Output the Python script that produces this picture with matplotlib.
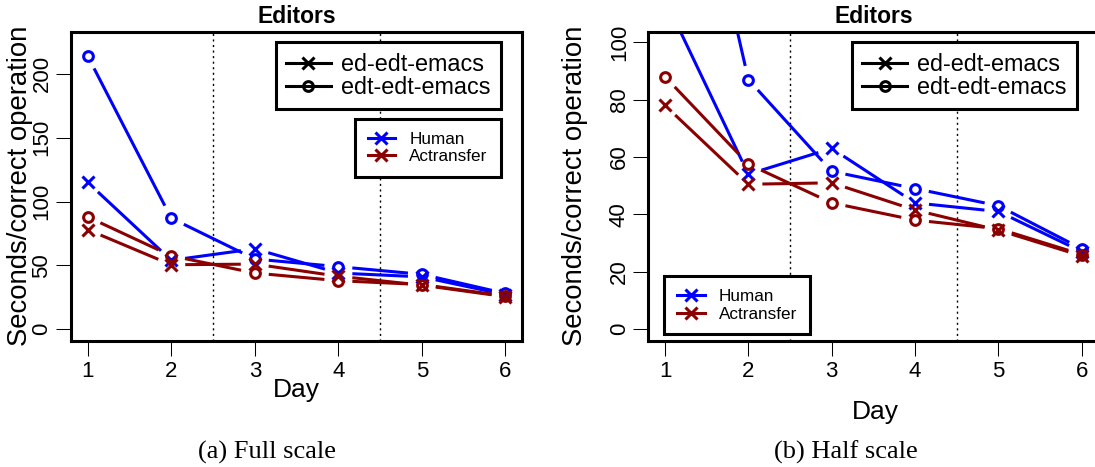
import matplotlib
matplotlib.use('Agg')
import matplotlib.pyplot as plt
from matplotlib.lines import Line2D
import numpy as np

# Segundos por operación correcta, por día
dias = [1, 2, 3, 4, 5, 6]
human_ed = [115, 54, 63, 44, 41, 27]
human_edt = [214, 87, 55, 49, 43, 28]
actr_ed = [78, 50.5, 51, 41.5, 34.5, 25.5]
actr_edt = [88, 57.5, 44, 38, 35, 26]

etiquetas_orden = ['ed-edt-emacs', 'edt-edt-emacs']
etiquetas_modelo = ['Human', 'Actransfer']
ticks_full = [0, 50, 100, 150, 200]
ticks_half = [0, 20, 40, 60, 80, 100]

AZUL = '#0000ff'
ROJO = '#8b0000'
LW = 2.2
MS_X = 8.5
MS_O = 7

plt.rcParams['font.family'] = 'Liberation Sans'


def linea_con_huecos(ax, x, y, color, marker, ms, hueco=14):
    """Dibuja estilo type='b' de R: los segmentos se cortan antes de cada punto."""
    pts = ax.transData.transform(np.column_stack([x, y]))
    inv = ax.transData.inverted()
    xs, ys = [], []
    for p0, p1 in zip(pts[:-1], pts[1:]):
        d = p1 - p0
        largo = np.hypot(*d)
        if largo <= 2 * hueco:
            continue
        u = d / largo
        a = inv.transform([p0 + u * hueco, p1 - u * hueco])
        xs += [a[0, 0], a[1, 0], np.nan]
        ys += [a[0, 1], a[1, 1], np.nan]
    ax.plot(xs, ys, color=color, lw=LW, solid_capstyle='butt')
    ax.plot(x, y, ls='none', marker=marker, ms=ms, mew=LW, mfc='none', mec=color)


def graficar_panel(ax, ylim, yticks, ylabel_x, day_y, day_x, loc_modelo, anchor_modelo):
    ax.set_xlim(0.8, 6.2)
    ax.set_ylim(*ylim)
    ax.set_xticks(dias)
    ax.set_yticks(yticks)
    ax.tick_params(direction='out', length=10.8, width=0.75, labelsize=16, pad=4)
    ax.tick_params(axis='y', labelrotation=90, pad=2.5)
    for lbl in ax.get_yticklabels():
        lbl.set_va('center')
    for s in ax.spines.values():
        s.set_linewidth(LW)

    ax.axvline(2.5, color='black', lw=1, ls=(0, (1.5, 2.5)))
    ax.axvline(4.5, color='black', lw=1, ls=(0, (1.5, 2.5)))

    linea_con_huecos(ax, dias, human_ed, AZUL, 'x', MS_X)
    linea_con_huecos(ax, dias, human_edt, AZUL, 'o', MS_O)
    linea_con_huecos(ax, dias, actr_ed, ROJO, 'x', MS_X)
    linea_con_huecos(ax, dias, actr_edt, ROJO, 'o', MS_O)

    ax.set_title('Editors', fontweight='bold', fontsize=16.5, pad=6.5)
    ax.set_ylabel('Seconds/correct operation', fontsize=19.8)
    ax.yaxis.set_label_coords(ylabel_x, 0.5)
    ax.text(day_x, day_y, 'Day', transform=ax.transAxes, ha='center',
            va='baseline', fontsize=19)

    h_orden = [Line2D([], [], color='black', lw=LW, marker='x', ms=MS_X, mew=LW),
               Line2D([], [], color='black', lw=LW, marker='o', ms=MS_O, mew=LW, mfc='none')]
    leg1 = ax.legend(h_orden, etiquetas_orden, loc='upper right',
                     bbox_to_anchor=(0.952, 0.966), borderaxespad=0,
                     prop={'size': 16.8}, handlelength=1.9, handletextpad=0.43,
                     borderpad=0.45, labelspacing=0.0, fancybox=False,
                     edgecolor='black', framealpha=1)
    leg1.get_frame().set_linewidth(LW)
    ax.add_artist(leg1)

    h_modelo = [Line2D([], [], color=AZUL, lw=LW, marker='x', ms=MS_X, mew=LW),
                Line2D([], [], color=ROJO, lw=LW, marker='x', ms=MS_X, mew=LW)]
    leg2 = ax.legend(h_modelo, etiquetas_modelo, loc=loc_modelo,
                     bbox_to_anchor=anchor_modelo, borderaxespad=0,
                     prop={'size': 12.3}, handlelength=1.6, handletextpad=0.85,
                     borderpad=0.75, labelspacing=0.15, fancybox=False,
                     edgecolor='black', framealpha=1)
    leg2.get_frame().set_linewidth(LW)


fig = plt.figure(figsize=(10.95, 4.67), dpi=100)
ax1 = fig.add_axes([0.0648, 0.2704, 0.4121, 0.6617])
ax2 = fig.add_axes([0.5921, 0.2704, 0.4110, 0.6617])

graficar_panel(ax1, (-9, 233), ticks_full, -0.084, -0.182, 0.5,
               'upper right', (0.952, 0.7175))
graficar_panel(ax2, (-4.07, 103.7), ticks_half, -0.134, -0.253, 0.504,
               'lower left', (0.0356, 0.0207))

fig.text(267.5 / 1095, 8.7 / 467, '(a) Full scale', ha='center', va='baseline',
         family='Liberation Serif', fontsize=19)
fig.text(846 / 1095, 8.7 / 467, '(b) Half scale', ha='center', va='baseline',
         family='Liberation Serif', fontsize=19)

fig.savefig('out.png', dpi=100)
